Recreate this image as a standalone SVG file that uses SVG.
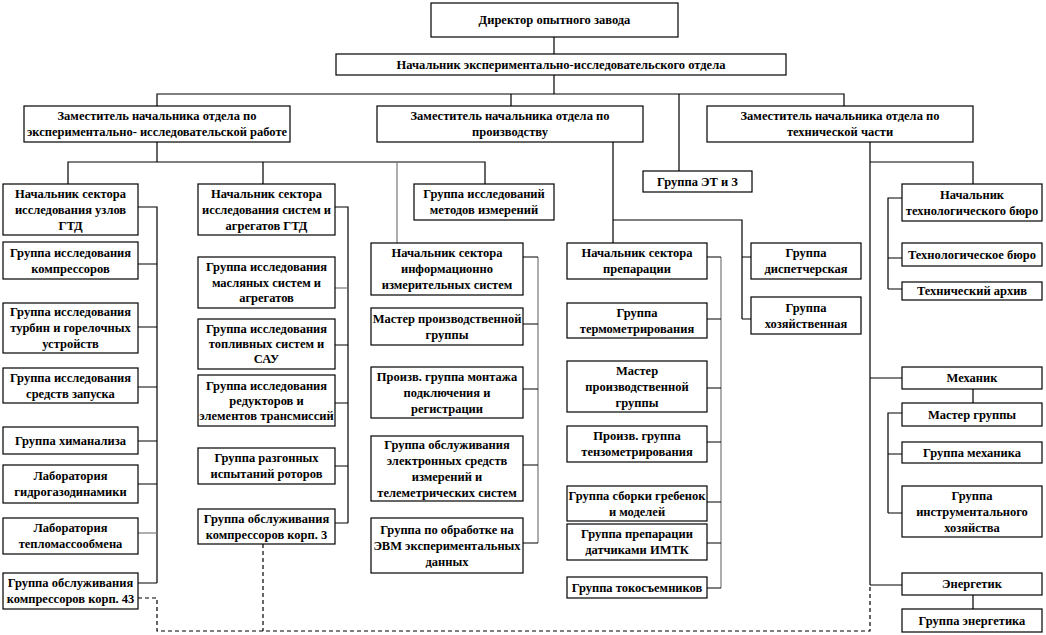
<svg xmlns="http://www.w3.org/2000/svg" width="1046" height="635" viewBox="0 0 1046 635">
<style>
.b{fill:#fff;stroke:#000;stroke-width:1.2}
text{font-family:'Liberation Serif','DejaVu Serif',serif;font-weight:bold;font-size:12.5px;text-anchor:middle;fill:#000}
.c{fill:none;stroke:#000;stroke-width:1.2}
.g{stroke:#777}
.d{stroke-dasharray:4 3}
</style>
<rect width="1046" height="635" fill="#fff"/>
<g id="connectors">
<path class="c" d="M554 37V54M554 75V94M157 106V94H844V106M511 94V106M679 94V171"/>
<path class="c" d="M157 142V162M68 184V162H485V184M263 162V184"/>
<path class="c g" d="M397 162V243"/>
<path class="c" d="M138 207H157V583M138 264H157M138 327H157M138 387H157M138 441H157M138 484H157M138 583H157"/>
<path class="c g" d="M138 533H157"/>
<path class="c" d="M335 207H348V523M335 345H348M335 403H348M335 466H348M335 523H348"/>
<path class="c g" d="M335 288H348"/>
<path class="c g" d="M538 257V543"/>
<path class="c" d="M523 257H538M523 324H538M523 389H538M523 465H538M523 543H538"/>
<path class="c" d="M613 142V243M613 220H742V319M742 257H751M742 319H751"/>
<path class="c g" d="M721 257V588"/>
<path class="c" d="M707 257H721M707 319H721M707 388H721M707 442H721M707 502H721M707 543H721M707 588H721"/>
<path class="c" d="M870 142V585M870 162H973V184M902 198H888V289M888 258H902M888 289H902"/>
<path class="c" d="M870 378H902M973 389V403M902 413H888V513M888 454H902M888 513H902M870 585H902M973 595V609"/>
<path class="c d" d="M138 598H157V631H870V585M263 544V631"/>
</g>
<g font-family="Liberation Serif, DejaVu Serif, serif" font-weight="bold" font-size="12.5">
<g id="director"><rect class="b" x="431" y="3" width="247" height="34"/><text x="554.5" y="24">Директор опытного завода</text></g>
<g id="head"><rect class="b" x="336" y="54" width="450" height="21"/><text x="561" y="68.5">Начальник экспериментально-исследовательского  отдела</text></g>
<g id="dep1"><rect class="b" x="24" y="106" width="266" height="36"/><text x="157" y="120">Заместитель начальника отдела по</text><text x="157" y="136">экспериментально- исследовательской работе</text></g>
<g id="dep2"><rect class="b" x="377" y="106" width="266" height="36"/><text x="510" y="120">Заместитель начальника отдела по</text><text x="510" y="136">производству</text></g>
<g id="dep3"><rect class="b" x="707" y="106" width="266" height="36"/><text x="840" y="120">Заместитель начальника отдела по</text><text x="840" y="136">технической части</text></g>
<g id="sec1"><rect class="b" x="3" y="184" width="135" height="51"/><text x="70.5" y="197.5">Начальник сектора</text><text x="70.5" y="213.5">исследования узлов</text><text x="70.5" y="229.5">ГТД</text></g>
<g id="sec2"><rect class="b" x="198" y="184" width="137" height="51"/><text x="266.5" y="197.5">Начальник сектора</text><text x="266.5" y="213.5">исследования систем и</text><text x="266.5" y="229.5">агрегатов ГТД</text></g>
<g id="methods"><rect class="b" x="414" y="184" width="140" height="36"/><text x="484" y="198">Группа исследований</text><text x="484" y="214">методов измерений</text></g>
<g id="et"><rect class="b" x="643" y="171" width="109" height="21"/><text x="697.5" y="185.5">Группа ЭТ и З</text></g>
<g id="techchief"><rect class="b" x="902" y="184" width="140" height="37"/><text x="972" y="198.5">Начальник</text><text x="972" y="214.5">технологического  бюро</text></g>
<g id="g_compr"><rect class="b" x="3" y="242" width="135" height="37"/><text x="70.5" y="256.5">Группа исследования</text><text x="70.5" y="272.5">компрессоров</text></g>
<g id="g_turb"><rect class="b" x="3" y="303" width="135" height="50"/><text x="70.5" y="316">Группа исследования</text><text x="70.5" y="332">турбин и горелочных</text><text x="70.5" y="348">устройств</text></g>
<g id="g_start"><rect class="b" x="3" y="368" width="135" height="35"/><text x="70.5" y="381.5">Группа исследования</text><text x="70.5" y="397.5">средств  запуска</text></g>
<g id="g_chem"><rect class="b" x="3" y="427" width="135" height="27"/><text x="70.5" y="444.5">Группа химанализа</text></g>
<g id="lab_hgd"><rect class="b" x="3" y="465" width="135" height="38"/><text x="70.5" y="480">Лаборатория</text><text x="70.5" y="496">гидрогазодинамики</text></g>
<g id="lab_tmo"><rect class="b" x="3" y="518" width="135" height="36"/><text x="70.5" y="532">Лаборатория</text><text x="70.5" y="548">тепломассообмена</text></g>
<g id="g_k43"><rect class="b" x="3" y="573" width="135" height="36"/><text x="70.5" y="587">Группа обслуживания</text><text x="70.5" y="603">компрессоров корп. 43</text></g>
<g id="g_oil"><rect class="b" x="198" y="257" width="137" height="51"/><text x="266.5" y="271">Группа исследования</text><text x="266.5" y="286.5">масляных  систем и</text><text x="266.5" y="302">агрегатов</text></g>
<g id="g_fuel"><rect class="b" x="198" y="319" width="137" height="50"/><text x="266.5" y="333">Группа исследования</text><text x="266.5" y="348">топливных  систем и</text><text x="266.5" y="363">САУ</text></g>
<g id="g_red"><rect class="b" x="198" y="375" width="137" height="51"/><text x="266.5" y="389.5">Группа исследования</text><text x="266.5" y="404.5">редукторов и</text><text x="266.5" y="419.5">элементов трансмиссий</text></g>
<g id="g_razg"><rect class="b" x="198" y="448" width="137" height="36"/><text x="266.5" y="462">Группа разгонных</text><text x="266.5" y="478">испытаний роторов</text></g>
<g id="g_k3"><rect class="b" x="198" y="509" width="137" height="35"/><text x="266.5" y="522.5">Группа обслуживания</text><text x="266.5" y="538.5">компрессоров корп. 3</text></g>
<g id="sec_info"><rect class="b" x="371" y="243" width="152" height="52"/><text x="447" y="257">Начальник сектора</text><text x="447" y="273">информационно</text><text x="447" y="289">измерительных  систем</text></g>
<g id="info_master"><rect class="b" x="371" y="308" width="152" height="37"/><text x="447" y="322.5">Мастер производственной</text><text x="447" y="338.5">группы</text></g>
<g id="info_mont"><rect class="b" x="371" y="367" width="152" height="51"/><text x="447" y="380.5">Произв. группа монтажа</text><text x="447" y="396.5">подключения и</text><text x="447" y="412.5">регистрации</text></g>
<g id="info_el"><rect class="b" x="371" y="436" width="152" height="65"/><text x="447" y="448.5">Группа обслуживания</text><text x="447" y="464.5">электронных  средств</text><text x="447" y="480.5">измерений и</text><text x="447" y="496.5">телеметрических  систем</text></g>
<g id="info_evm"><rect class="b" x="371" y="518" width="152" height="55"/><text x="447" y="533.5">Группа по обработке на</text><text x="447" y="549.5">ЭВМ экспериментальных</text><text x="447" y="565.5">данных</text></g>
<g id="sec_prep"><rect class="b" x="567" y="243" width="140" height="36"/><text x="637" y="257">Начальник сектора</text><text x="637" y="273">препарации</text></g>
<g id="prep_thermo"><rect class="b" x="567" y="303" width="140" height="35"/><text x="637" y="316.5">Группа</text><text x="637" y="332.5">термометрирования</text></g>
<g id="prep_master"><rect class="b" x="567" y="361" width="140" height="51"/><text x="637" y="374.5">Мастер</text><text x="637" y="390.5">производственной</text><text x="637" y="406.5">группы</text></g>
<g id="prep_tenzo"><rect class="b" x="567" y="426" width="140" height="36"/><text x="637" y="440">Произв. группа</text><text x="637" y="456">тензометрирования</text></g>
<g id="prep_comb"><rect class="b" x="567" y="486" width="140" height="35"/><text x="637" y="499.5">Группа сборки гребенок</text><text x="637" y="515.5">и моделей</text></g>
<g id="prep_imtk"><rect class="b" x="567" y="524" width="140" height="36"/><text x="637" y="538">Группа препарации</text><text x="637" y="554">датчиками ИМТК</text></g>
<g id="prep_tok"><rect class="b" x="567" y="577" width="140" height="21"/><text x="637" y="591.5">Группа токосъемников</text></g>
<g id="dispatch"><rect class="b" x="751" y="243" width="110" height="36"/><text x="806" y="257">Группа</text><text x="806" y="273">диспетчерская</text></g>
<g id="hoz"><rect class="b" x="751" y="297" width="110" height="37"/><text x="806" y="311.5">Группа</text><text x="806" y="327.5">хозяйственная</text></g>
<g id="techbureau"><rect class="b" x="902" y="243" width="140" height="23"/><text x="972" y="258.5">Технологическое  бюро</text></g>
<g id="archive"><rect class="b" x="902" y="282" width="140" height="18"/><text x="972" y="295">Технический  архив</text></g>
<g id="mech"><rect class="b" x="902" y="367" width="140" height="22"/><text x="972" y="382">Механик</text></g>
<g id="mech_master"><rect class="b" x="902" y="403" width="140" height="23"/><text x="972" y="418.5">Мастер группы</text></g>
<g id="mech_group"><rect class="b" x="902" y="442" width="140" height="21"/><text x="972" y="456.5">Группа механика</text></g>
<g id="instr"><rect class="b" x="902" y="486" width="140" height="51"/><text x="972" y="499.5">Группа</text><text x="972" y="515.5">инструментального</text><text x="972" y="531.5">хозяйства</text></g>
<g id="energ"><rect class="b" x="902" y="573" width="140" height="22"/><text x="972" y="588">Энергетик</text></g>
<g id="energ_group"><rect class="b" x="902" y="609" width="140" height="23"/><text x="972" y="624.5">Группа энергетика</text></g>
</g>
</svg>
